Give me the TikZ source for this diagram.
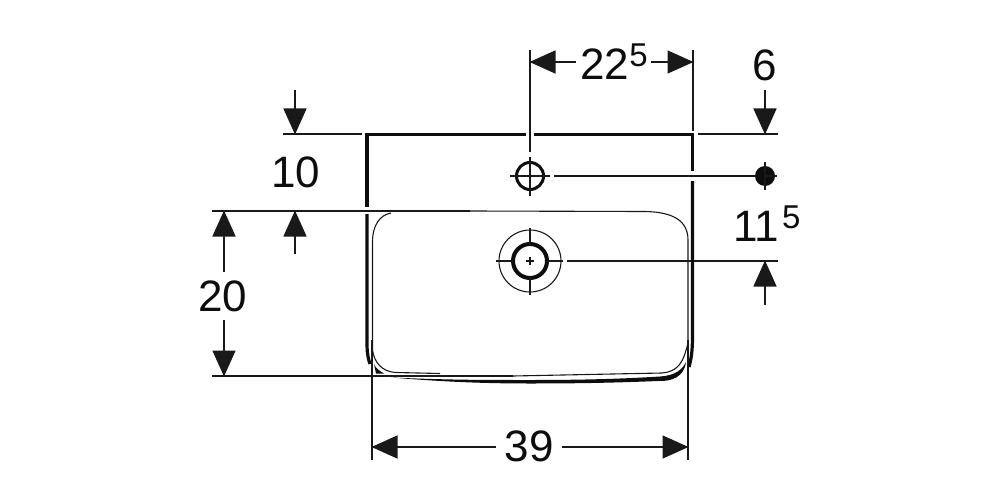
\documentclass[tikz,border=0pt]{standalone}
\usepackage{fontspec}
\setmainfont{Liberation Sans}
\usetikzlibrary{arrows.meta}
\tikzset{
 thin line/.style={line width=1.1pt,black!90},
 ext/.style={line width=1.5pt,black!90},
 heavy/.style={line width=3.2pt,black!95,line cap=butt},
 dim/.style={line width=1.5pt,black!90,-{Triangle[length=26pt,width=23pt]},shorten >=-0.5pt},
 lab/.style={font=\fontsize{44}{44}\selectfont,inner sep=0pt,text=black!95},
}
\newcommand{\sups}[1]{\raisebox{13pt}{\fontsize{33}{33}\selectfont #1}}
\begin{document}
\begin{tikzpicture}[x=1pt,y=-1pt]
\useasboundingbox (0,0) rectangle (1000,500);
% labels
\node[lab] (t22) at (614,62) {22\sups{5}};
\node[lab] (t6) at (765,65) {6};
\node[lab] (t10) at (296,172) {10};
\node[lab] (t115) at (767,224) {11\hspace{3pt}\sups{5}};
\node[lab] (t20) at (223,296) {20};
\node[lab] (t39) at (529,446) {39};
% coordinates
\coordinate (a1) at (530,62); \coordinate (a2) at (693,62);
\coordinate (b1) at (372,447); \coordinate (b2) at (688,447);
\coordinate (c1) at (224,211); \coordinate (c2) at (224,376);
\coordinate (d1) at (295,90); \coordinate (d2) at (295,134);
\coordinate (e1) at (295,254); \coordinate (e2) at (295,211);
\coordinate (f1) at (765,90); \coordinate (f2) at (765,134);
\coordinate (g1) at (765,305); \coordinate (g2) at (765,261);
\coordinate (h) at (530,176); \coordinate (k) at (530,261);
\coordinate (dot) at (765,176);
% dimension arrows
\draw[dim] (t22.west)++(-4,0) -- (a1);
\draw[dim] (t22.east)++(3,0) -- (a2);
\draw[dim] (t39.west)++(-8,1) -- (b1);
\draw[dim] (t39.east)++(8,1) -- (b2);
\draw[dim] (t20.north)++(1,-8) -- (c1);
\draw[dim] (t20.south)++(1,8) -- (c2);
\draw[dim] (d1) -- (d2);
\draw[dim] (e1) -- (e2);
\draw[dim] (f1) -- (f2);
\draw[dim] (g1) -- (g2);
% extension lines
\draw[ext] (530,50) -- (530,152);
\draw[ext] (693,50) -- (693,131);
\draw[ext] (283,134) -- (362,134);
\draw[ext] (698,134) -- (778,134);
\draw[ext] (554,176) -- (dot);
\draw[ext] (212,211) -- (470,211);
\draw[ext] (567,261) -- (778,261);
\draw[ext] (212,376) -- (513,376);
\draw[ext] (372,340) -- (372,460);
\draw[ext] (688,340) -- (688,460);
% basin outer
\draw[heavy] (367,207) -- (367,134.5) -- (526,134.5);
\draw[heavy] (534,134.5) -- (692.5,134.5) -- (692.5,171);
\draw[heavy] (692.5,181) -- (692.5,335) .. controls (692.5,350) and (691.5,358) .. (689,367);
\draw[heavy] (367,214) -- (367,338) .. controls (367,350) and (367,355) .. (370,364);
% basin inner
\draw[thin line] (372.5,242) .. controls (372.5,225) and (380,215) .. (391,213);
\draw[thin line] (470,211) -- (645,211.5) .. controls (672,212) and (688,220) .. (688,240) -- (688,340)
  .. controls (688,346) and (686,350) .. (684.5,355)
  .. controls (681,365) and (675,372) .. (662,373) -- (513,376);
\draw[thin line] (372.5,242) -- (372.5,350) .. controls (374,362) and (382,372) .. (396,372.5) -- (440,373.5);
% lower bulge
\fill[black!95] (391,377.5) .. controls (450,380) and (480,380) .. (530,380)
  .. controls (580,380) and (620,379) .. (660,376.5)
  .. controls (675,375.5) and (682,370) .. (686,362) .. controls (684,377) and (672,381.5) .. (658,381)
  .. controls (610,383) and (570,383.5) .. (530,383.5) .. controls (480,383.5) and (440,381.5) .. (391,377.5) -- cycle;
\fill[black!95] (374,364) .. controls (376,369) and (380,371) .. (384,373.5) -- (376,373.5) -- cycle;
% small hole
\draw[line width=3pt,black!95] (h) circle (13.5);
\draw[ext] (510,176) -- (550,176);
\draw[ext] (530,157) -- (530,196);
% large hole
\draw[thin line] (k) circle (31);
\draw[line width=4pt,black!95] (k) circle (17);
\draw[ext] (496,261) -- (513,261);
\draw[ext] (547,261) -- (563,261);
\draw[ext] (530,228) -- (530,245);
\draw[ext] (530,277) -- (530,295);
\draw[ext] (526,261) -- (534,261);
\draw[ext] (530,257) -- (530,265);
% dot
\fill[black!95] (dot) circle (10);
\draw[ext] (765,162) -- (765,190);
\draw[ext] (765,176) -- (777,176);
\end{tikzpicture}
\end{document}
